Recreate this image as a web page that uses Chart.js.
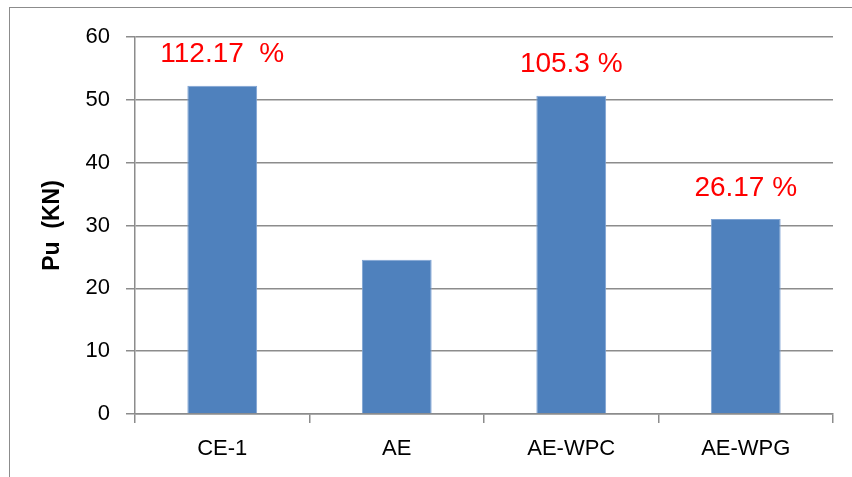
<!DOCTYPE html>
<html>
<head>
<meta charset="utf-8">
<script src="https://cdn.jsdelivr.net/npm/chart.js@4"></script>
<style>
  body { margin: 0; background: #fff; }
  #wrap { position: relative; width: 852px; height: 477px; overflow: hidden; }
  #frame { position: absolute; left: 9px; top: 7px; width: 900px; height: 520px; border: 1px solid #8c8c8c; }
  canvas { position: absolute; left: 0; top: 0; }
</style>
</head>
<body>
<div id="wrap">
  <div id="frame"></div>
  <canvas id="chart" width="852" height="477"></canvas>
</div>
<script>
const categories = ['CE-1', 'AE', 'AE-WPC', 'AE-WPG'];
const pu = [52.25, 24.55, 50.65, 31.05];
const pctLabels = ['112.17  %', '', '105.3 %', '26.17 %'];

// red percentage text above each bar
const barLabels = {
  id: 'barLabels',
  afterDatasetsDraw(chart) {
    const ctx = chart.ctx;
    const meta = chart.getDatasetMeta(0);
    ctx.save();
    ctx.fillStyle = '#ff0000';
    ctx.font = '28px "Liberation Sans", Arial, sans-serif';
    ctx.textAlign = 'center';
    ctx.textBaseline = 'middle';
    meta.data.forEach((bar, i) => {
      if (!pctLabels[i]) return;
      ctx.fillText(pctLabels[i], bar.x, bar.y - 31);
    });
    ctx.restore();
  }
};

new Chart(document.getElementById('chart'), {
  type: 'bar',
  data: {
    labels: categories,
    datasets: [{
      data: pu,
      backgroundColor: '#4f81bd',
      borderColor: '#7ea3d3',
      borderWidth: 1,
      categoryPercentage: 1,
      barPercentage: 0.4
    }]
  },
  options: {
    responsive: false,
    animation: false,
    layout: { padding: { top: 37, right: 19, left: 0, bottom: 0 } },
    plugins: { legend: { display: false }, tooltip: { enabled: false } },
    scales: {
      x: {
        grid: { display: true, drawOnChartArea: false, color: '#8c8c8c', lineWidth: 1.5, tickLength: 9 },
        border: { color: '#8c8c8c', width: 1.5 },
        ticks: { color: '#000', font: { family: '"Liberation Sans", Arial, sans-serif', size: 22 }, padding: 13 },
        afterFit(scale) { scale.height = 63; }
      },
      y: {
        min: 0, max: 60,
        ticks: { stepSize: 10, color: '#000', font: { family: '"Liberation Sans", Arial, sans-serif', size: 22 }, padding: 16 },
        grid: { color: '#8c8c8c', lineWidth: 1.5, tickLength: 9 },
        border: { color: '#8c8c8c', width: 1.5 },
        title: {
          display: true,
          text: 'Pu  (KN)',
          color: '#000',
          font: { family: '"Liberation Sans", Arial, sans-serif', size: 23, weight: 'bold' },
          padding: { top: 39, bottom: 0 }
        },
        afterFit(scale) { scale.width = 135; }
      }
    }
  },
  plugins: [barLabels]
});
</script>
</body>
</html>
